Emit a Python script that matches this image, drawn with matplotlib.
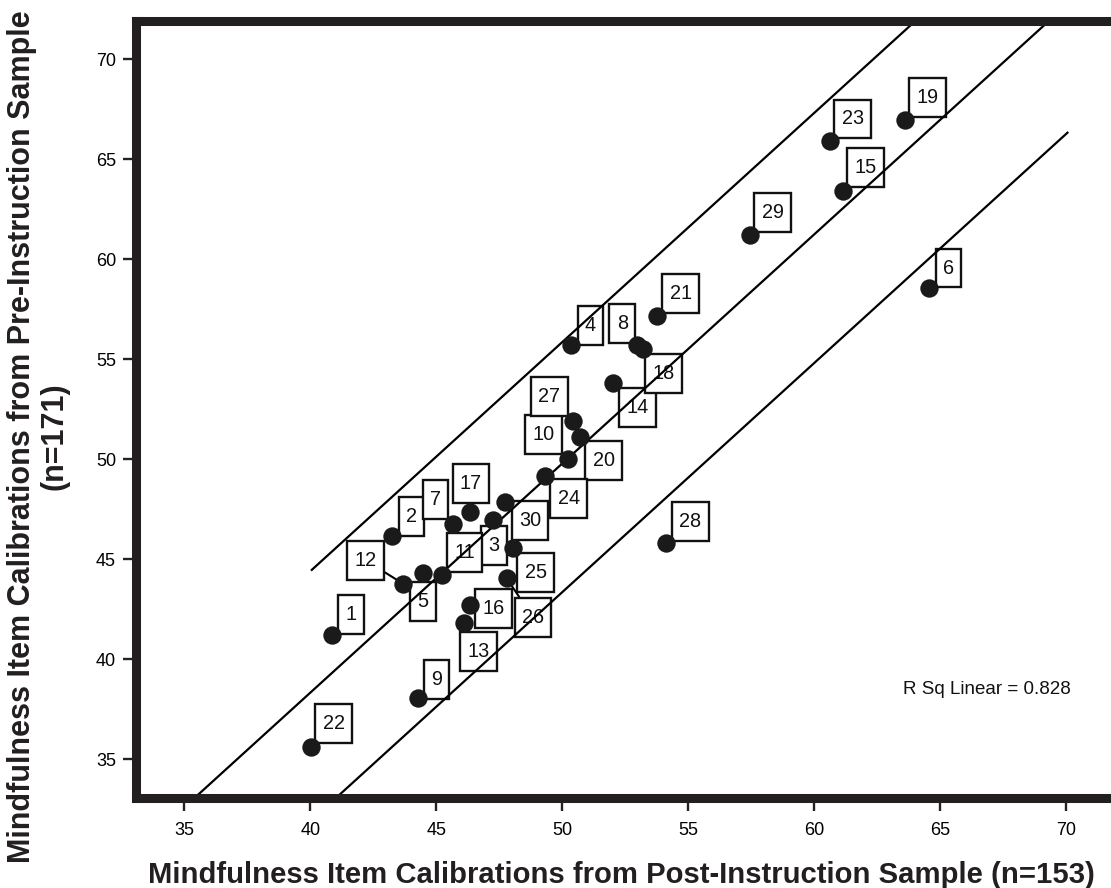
import matplotlib
matplotlib.use('Agg')
import matplotlib.pyplot as plt
from matplotlib.path import Path

plt.rcParams['font.family'] = ['Liberation Sans', 'DejaVu Sans']

# item calibrations
item_ids = list(range(1, 31))
post_calib = [40.85, 43.23, 47.26, 50.37, 44.48, 64.56, 45.67, 52.96, 44.29, 50.70,
              45.21, 43.69, 46.10, 52.02, 61.13, 46.34, 46.34, 53.20, 63.60, 50.24,
              53.75, 40.02, 60.62, 49.31, 48.06, 47.79, 50.44, 54.14, 57.45, 47.73]
pre_calib = [41.22, 46.17, 46.97, 55.72, 44.33, 58.58, 46.77, 55.72, 38.05, 51.13,
             44.22, 43.77, 41.80, 53.83, 63.42, 42.72, 47.38, 55.52, 66.97, 50.00,
             57.17, 35.63, 65.88, 49.17, 45.55, 44.05, 51.92, 45.80, 61.22, 47.88]

# fit line and the two bands around it (slope, intercept, x start, x end)
fit_slope = 1.145
band_lines = [(-1.4, 40.06, 75.0),
              (-7.47, 30.0, 75.0),
              (-13.9, 30.0, 70.06)]
r_sq_text = 'R Sq Linear = 0.828'

ticks = [35, 40, 45, 50, 55, 60, 65, 70]

# label box offsets from the point, in pixels (right, up)
label_offsets = {
    1: (19.5, 20), 2: (20, 19.5), 3: (1, -26), 4: (19, 19.5), 5: (0, -28.5),
    6: (19.5, 19.5), 7: (-17.5, 24), 8: (-14.5, 21.5), 9: (18, 18.5), 10: (-36, 2),
    11: (23, 22), 12: (-37.5, 23.5), 13: (14.5, -28.5), 14: (24.5, -25), 15: (23, 23),
    16: (23.5, -4), 17: (1, 28), 18: (21, -24.5), 19: (22.5, 22.5), 20: (35.5, -1),
    21: (24, 22.5), 22: (23, 23), 23: (23, 22.5), 24: (24, -23), 25: (22.5, -24),
    26: (26.5, -39), 27: (-24, 24.5), 28: (24, 22), 29: (23, 22.5), 30: (25, -19),
}
leader_items = {12, 26}


def label_box(x0, y0, width, height, mutation_size):
    # square box, a bit taller than wide padding
    px, py = 0.37 * mutation_size, 0.5 * mutation_size
    x0, y0 = x0 - px, y0 - py
    x1, y1 = x0 + width + 2 * px, y0 + height + 2 * py
    return Path([(x0, y0), (x1, y0), (x1, y1), (x0, y1), (x0, y0)], closed=True)


fig = plt.figure(figsize=(11.11, 8.88), dpi=100)
ax = fig.add_axes([0.1224, 0.1019, 0.9028, 0.8744])

for b, x0, x1 in band_lines:
    ax.plot([x0, x1], [fit_slope * x0 + b, fit_slope * x1 + b],
            color='black', lw=1.6, zorder=2)

ax.scatter(post_calib, pre_calib, s=175, color='#1a1a1a', zorder=3, linewidths=0)

for i, x, y in zip(item_ids, post_calib, pre_calib):
    dx, dy = label_offsets[i]
    arrow = None
    if i in leader_items:
        arrow = dict(arrowstyle='-', color='black', lw=1.5, shrinkA=0, shrinkB=0)
    ax.annotate(str(i), xy=(x, y), xytext=(dx * 0.72, dy * 0.72),
                textcoords='offset points', ha='center', va='center',
                fontsize=14.3, color='#111111', zorder=1, arrowprops=arrow,
                bbox=dict(boxstyle=label_box, fc='white', ec='#111111', lw=1.7))

ax.text(63.52, 38.47, r_sq_text, fontsize=13.5, ha='left', va='center', color='#111111')

ax.set_xlim(33.08, 72.9)
ax.set_ylim(33.09, 71.9)
ax.set_xticks(ticks)
ax.set_yticks(ticks)
ax.tick_params(direction='out', length=9.6, width=1.7, labelsize=13, color='#222222')
ax.tick_params(axis='x', pad=8.3)
ax.tick_params(axis='y', pad=4.8)
for s in ax.spines.values():
    s.set_linewidth(6.5)
    s.set_color('#231f20')

fig.text(0.5594, 0.0056, 'Mindfulness Item Calibrations from Post-Instruction Sample (n=153)',
         fontsize=21.1, fontweight='bold', ha='center', va='baseline', color='#231f20')
fig.text(0.0342, 0.5084, 'Mindfulness Item Calibrations from Pre-Instruction Sample\n(n=171)',
         fontsize=22.0, fontweight='bold', ha='center', va='center', rotation=90,
         multialignment='center', linespacing=1.1, color='#231f20')

fig.savefig('out.png', dpi=100)
